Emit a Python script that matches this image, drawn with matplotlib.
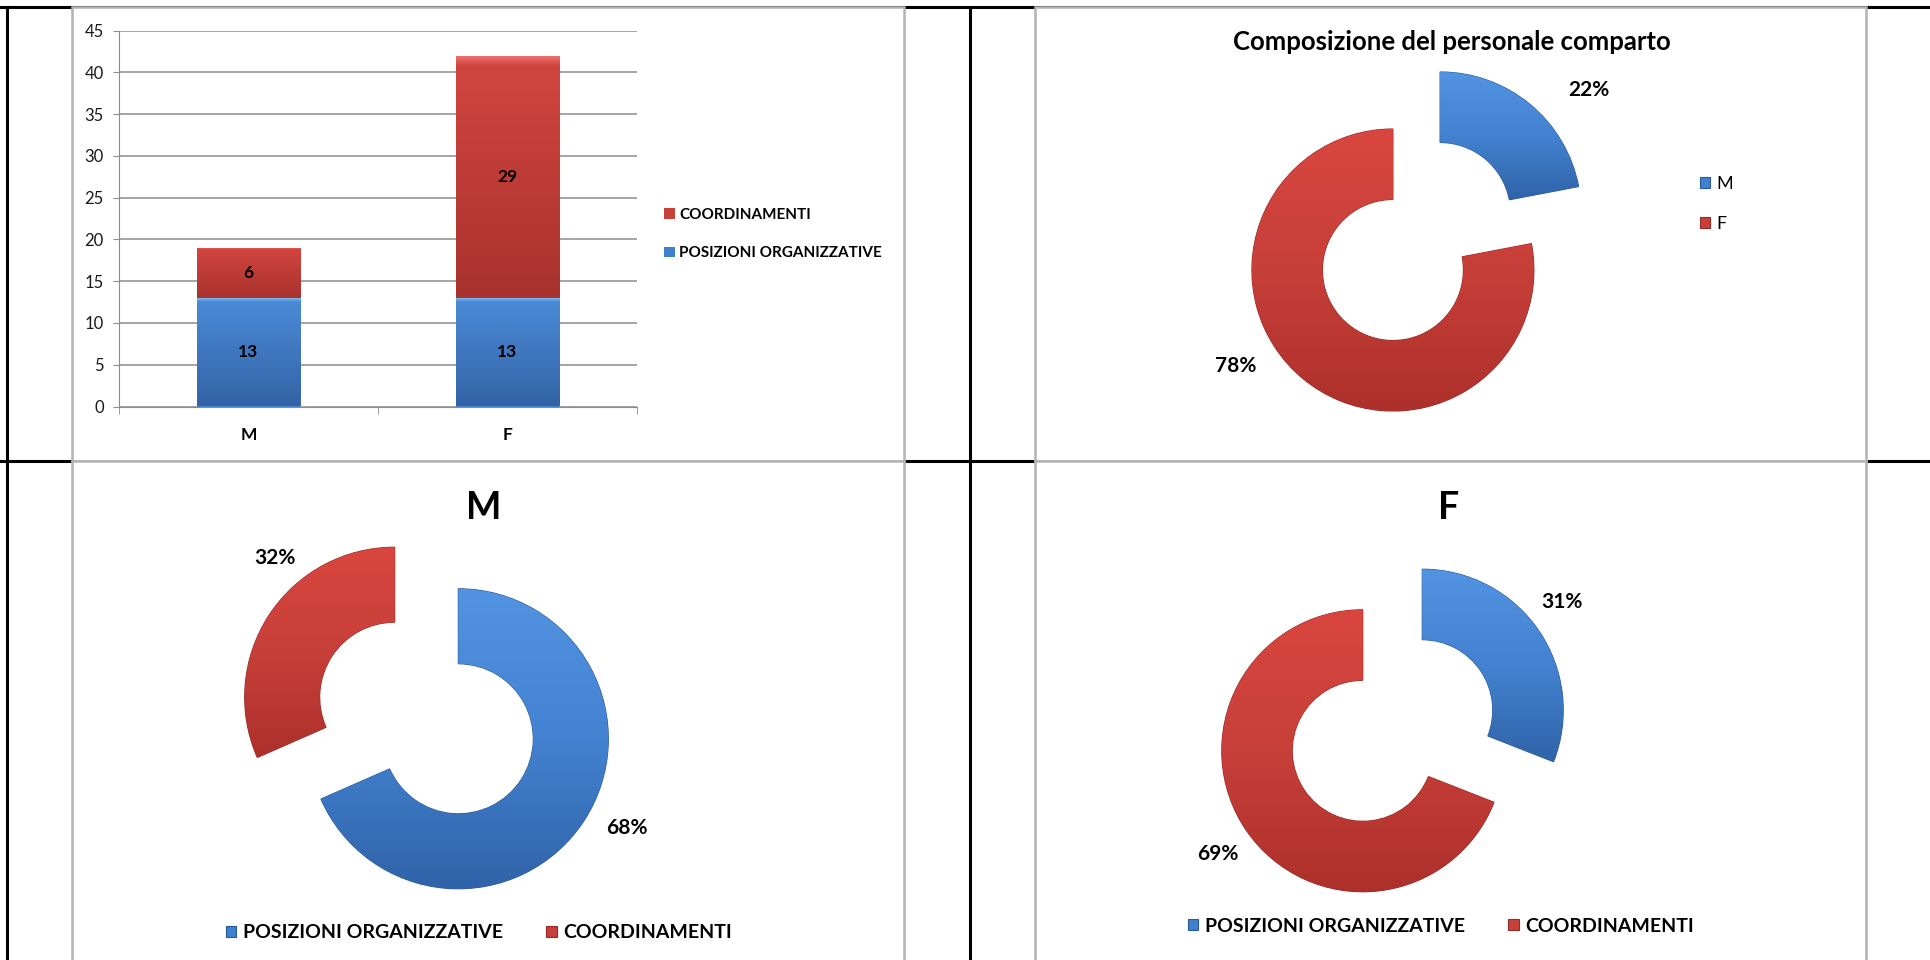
import matplotlib
matplotlib.use("Agg")
import matplotlib.pyplot as plt
import numpy as np
from matplotlib.colors import LinearSegmentedColormap
from matplotlib.lines import Line2D
from matplotlib.patches import Patch, Rectangle

plt.rcParams["font.family"] = ["Lato", "DejaVu Sans"]

# data
categories = ["M", "F"]
posizioni = [13, 13]
coordinamenti = [6, 29]
series = ["POSIZIONI ORGANIZZATIVE", "COORDINAMENTI"]
comparto_labels = ["M", "F"]
comparto_pct = [22, 78]
y_ticks = np.arange(0, 50, 5)

W, H = 1931, 960
BLUE = "#4080cc"
RED = "#c8403a"
BLUE_EDGE = "#2c5a98"
RED_EDGE = "#962a26"
BAR_BLUE = [(0, "#8cc8f7"), (0.04, "#4a8ad6"), (1, "#3463a6")]
BAR_RED = [(0, "#ec7670"), (0.04, "#d2453f"), (1, "#a8322d")]
RING_BLUE = [(0, "#5293e2"), (0.5, "#4382d0"), (1, "#3063a8")]
RING_RED = [(0, "#d9463f"), (0.5, "#c73f39"), (1, "#ad302b")]


def fx(x):
    return x / W


def fy(y):
    return 1 - y / H


def shade(ax, patch, stops):
    """Fill a patch with a vertical gradient (top -> bottom)."""
    bb = patch.get_path().get_extents(patch.get_patch_transform())
    cmap = LinearSegmentedColormap.from_list("g", stops)
    grad = np.linspace(1, 0, 256).reshape(-1, 1)
    im = ax.imshow(grad, cmap=cmap, extent=(bb.x0, bb.x1, bb.y0, bb.y1),
                   origin="lower", aspect="auto", interpolation="bilinear",
                   zorder=patch.get_zorder() + 0.1)
    im.set_clip_path(patch)


fig = plt.figure(figsize=(W / 100, H / 100), dpi=100)

# table rules and chart frames
for y in (6.5, 461):
    fig.add_artist(Line2D([0, 1], [fy(y)] * 2, color="black", lw=2.2, zorder=-2))
for x in (7, 970):
    fig.add_artist(Line2D([fx(x)] * 2, [0, fy(6.5)], color="black", lw=2.2, zorder=-2))

boxes = {
    "bar": (72, 7, 904, 461),
    "comparto": (1035, 7, 1866, 461),
    "M": (72, 461, 904, 962),
    "F": (1035, 461, 1866, 962),
}
for x0, y0, x1, y1 in boxes.values():
    fig.add_artist(Rectangle((fx(x0), fy(y1)), fx(x1) - fx(x0), fy(y0) - fy(y1),
                             transform=fig.transFigure, facecolor="white",
                             edgecolor="#b3b3b3", lw=1.8, zorder=-1))

# stacked bars
ax = fig.add_axes([fx(119), fy(406.5), fx(637) - fx(119), fy(30.5) - fy(406.5)])
x = np.arange(len(categories))
b1 = ax.bar(x, posizioni, width=0.4, color=BLUE, zorder=2)
b2 = ax.bar(x, coordinamenti, width=0.4, bottom=posizioni, color=RED, zorder=2)
for bars, stops in ((b1, BAR_BLUE), (b2, BAR_RED)):
    for p in bars:
        shade(ax, p, stops)
    ax.bar_label(bars, label_type="center", fontsize=12.5, fontweight="bold", zorder=4)
ax.set_xlim(-0.5, 1.5)
ax.set_ylim(0, 45)
ax.set_yticks(y_ticks)
ax.yaxis.grid(True, color="#8c8c8c", lw=1.1)
ax.set_axisbelow(True)
for s in ("top", "right"):
    ax.spines[s].set_visible(False)
for s in ("left", "bottom"):
    ax.spines[s].set_color("#8c8c8c")
ax.tick_params(axis="y", length=4, color="#8c8c8c", labelsize=12, pad=7, labelcolor="#1a1a1a")
ax.set_xticks(x, categories, fontweight="bold", fontsize=12.5)
ax.set_xticks([-0.5, 0.5, 1.5], minor=True)
ax.tick_params(axis="x", which="major", length=0, pad=15)
ax.tick_params(axis="x", which="minor", length=5, color="#8c8c8c")

fig.legend([Patch(facecolor=RED), Patch(facecolor=BLUE)], [series[1], series[0]],
           loc="center left", bbox_to_anchor=(fx(664), fy(234)), frameon=False,
           prop=dict(weight="bold", size=11), handlelength=0.7, handleheight=0.7,
           handletextpad=0.3, labelspacing=1.6, borderpad=0, borderaxespad=0)


def donut(box, values, center, radius, gap, label_offsets):
    x0, y0, x1, y1 = box
    dax = fig.add_axes([fx(x0), fy(y1), fx(x1) - fx(x0), fy(y0) - fy(y1)])
    dax.patch.set_alpha(0)
    cx, cy = center[0], H - center[1]
    wedges, _ = dax.pie(values, colors=[BLUE, RED], startangle=90, counterclock=False,
                        radius=radius, center=(cx, cy), explode=[gap, gap],
                        wedgeprops=dict(width=radius / 2, linewidth=0.8))
    for w, stops, edge in zip(wedges, (RING_BLUE, RING_RED), (BLUE_EDGE, RED_EDGE)):
        w.set_edgecolor(edge)
        shade(dax, w, stops)
    total = sum(values)
    for v, (dx, dy) in zip(values, label_offsets):
        dax.text(cx + dx, cy - dy, f"{100 * v / total:.0f}%", ha="center", va="center",
                 fontsize=15, fontweight="bold")
    dax.set_xlim(x0, x1)
    dax.set_ylim(H - y1, H - y0)
    dax.axis("off")
    return wedges


# personale comparto
w_comp = donut(boxes["comparto"], comparto_pct, (1416.5, 241.5), 141, 37,
               [(172, -151), (-181, 124)])
fig.text(fx(1452), fy(42), "Composizione del personale comparto", ha="center", va="center",
         fontsize=18.5, fontweight="bold")
fig.legend(w_comp, comparto_labels, loc="center left", bbox_to_anchor=(fx(1700), fy(204)),
           frameon=False, fontsize=13, handlelength=0.55, handleheight=0.55,
           handletextpad=0.35, labelspacing=1.3, borderpad=0, borderaxespad=0)

# M / F breakdown
w_m = donut(boxes["M"], [posizioni[0], coordinamenti[0]], (426.5, 718), 150, 38,
            [(200, 110), (-152, -160)])
fig.text(fx(484), fy(508), "M", ha="center", va="center", fontsize=27, fontweight="bold")
fig.legend(w_m, series, loc="center", bbox_to_anchor=(fx(479), fy(933)), ncol=2,
           frameon=False, prop=dict(weight="bold", size=14), handlelength=0.55,
           handleheight=0.55, handletextpad=0.35, columnspacing=2.2,
           borderpad=0, borderaxespad=0)

w_f = donut(boxes["F"], [posizioni[1], coordinamenti[1]], (1392.5, 730.5), 141, 36,
            [(169, -129), (-175, 123)])
fig.text(fx(1449), fy(508), "F", ha="center", va="center", fontsize=27, fontweight="bold")
fig.legend(w_f, series, loc="center", bbox_to_anchor=(fx(1441), fy(926)), ncol=2,
           frameon=False, prop=dict(weight="bold", size=14), handlelength=0.55,
           handleheight=0.55, handletextpad=0.35, columnspacing=2.2,
           borderpad=0, borderaxespad=0)

fig.savefig("out.png", dpi=100)
